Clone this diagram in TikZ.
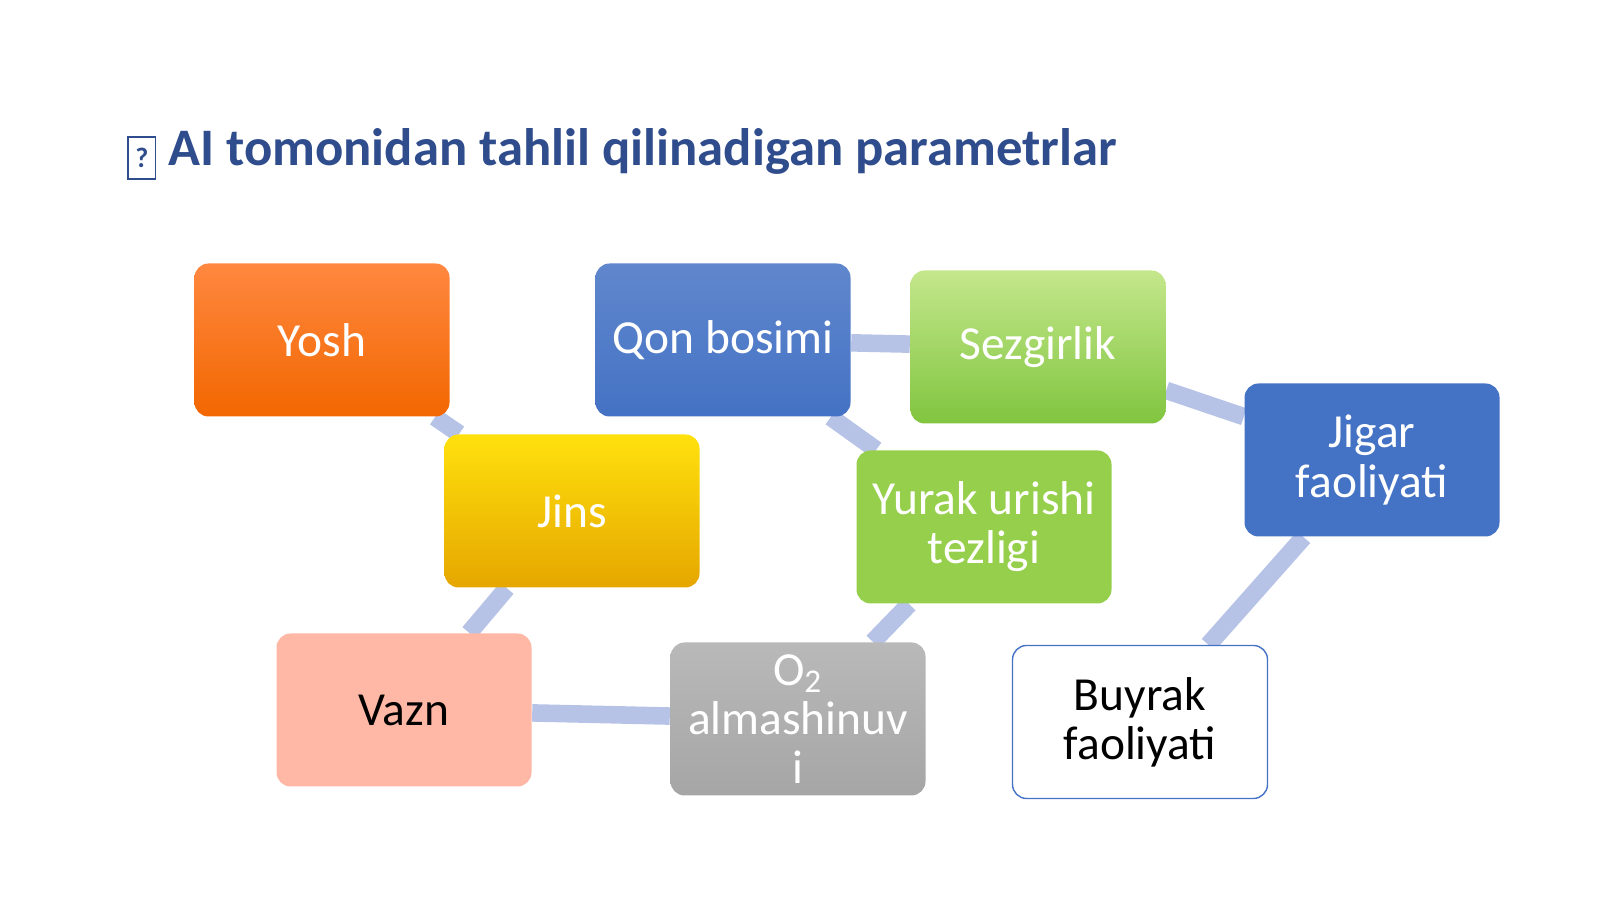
\documentclass[tikz,border=0pt]{standalone}
\usepackage{fontspec}
\setmainfont{Carlito}
\usetikzlibrary{positioning}
\definecolor{titleblue}{HTML}{2F4C8C}
\definecolor{linkblue}{HTML}{B7C3E6}
\definecolor{bblue}{HTML}{4472C4}
\tikzset{
  pbox/.style={rounded corners=4pt, minimum width=2.55cm, minimum height=1.53cm,
    align=center, font=\fontsize{13.5}{14}\selectfont, text=white, inner sep=1pt},
  link/.style={draw=linkblue, line width=5pt},
}
\pgfdeclarelayer{bg}
\pgfsetlayers{bg,main}
\begin{document}
\begin{tikzpicture}
\useasboundingbox (0,0) rectangle (16,8.99);

% title
\node[anchor=west, text=titleblue, font=\fontsize{15}{18}\selectfont\bfseries] (title) at (1.15,7.45)
  {\raisebox{-0.05em}{\framebox[0.55em][c]{\fontsize{8}{8}\selectfont ?}} AI tomonidan tahlil qilinadigan parametrlar};

% boxes
\node[pbox, top color=orange!75!red!75!white, bottom color=orange!85!red!95!black] (yosh) at (3.22,5.59) {Yosh};
\node[pbox, top color=bblue!85!white, bottom color=bblue] (qon) at (7.23,5.59) {Qon bosimi};
\node[pbox, top color=green!40!black!35!lime!45!white, bottom color=green!45!black!55!lime!75!white] (sez) at (10.38,5.52) {Sezgirlik};
\node[pbox, fill=bblue] (jigar) at (13.72,4.39) {Jigar\\faoliyati};
\node[pbox, top color=yellow!75!orange!95!white, bottom color=orange!55!yellow!90!black] (jins) at (5.72,3.88) {Jins};
\node[pbox, fill=green!40!black!45!lime!70!white] (yurak) at (9.84,3.72) {Yurak urishi\\tezligi};
\node[pbox, fill=orange!40!red!35!white, text=black] (vazn) at (4.04,1.89) {Vazn};
\node[pbox, top color=gray!55, bottom color=gray!70] (otwo) at (7.98,1.80) {O\textsubscript{2}\\almashinuv\\i};
\node[pbox, draw=bblue, fill=white, text=black] (buyrak) at (11.40,1.77) {Buyrak\\faoliyati};

% links behind the boxes
\begin{pgfonlayer}{bg}
\draw[link] (yosh) -- (jins);
\draw[link] (jins) -- (vazn);
\draw[link] (vazn) -- (otwo);
\draw[link] (otwo) -- (yurak);
\draw[link] (yurak) -- (qon);
\draw[link] (qon) -- (sez);
\draw[link] (sez) -- (jigar);
\draw[link] (jigar) -- (buyrak);
\end{pgfonlayer}
\end{tikzpicture}
\end{document}
